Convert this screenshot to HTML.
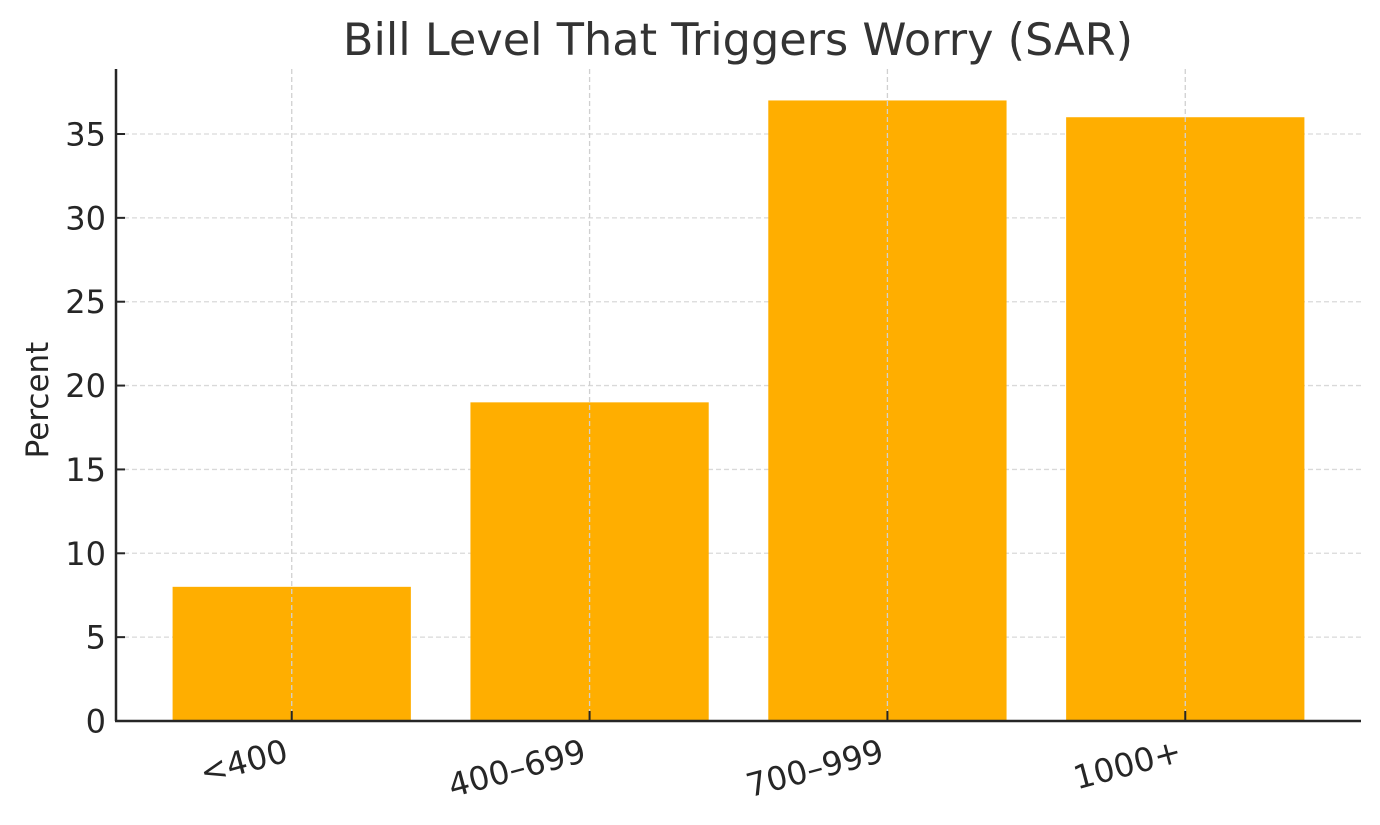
<!DOCTYPE html>
<html><head><meta charset="utf-8"><style>
body{margin:0;background:#fff;}
svg text{font-family:"DejaVu Sans","Liberation Sans",sans-serif;fill:#262626;}
</style></head><body>
<svg id="chart" width="1380" height="820" xmlns="http://www.w3.org/2000/svg">
<text x="738" y="55" font-size="44.6" text-anchor="middle" style="fill:#333">Bill Level That Triggers Worry (SAR)</text>
<text transform="translate(48,400) rotate(-90)" font-size="31" text-anchor="middle">Percent</text>
<g id="grid"></g><g id="bars"></g><g id="ticks"></g>
<line x1="116" y1="69" x2="116" y2="721" stroke="#262626" stroke-width="2.5"/>
<line x1="115" y1="721" x2="1361" y2="721" stroke="#262626" stroke-width="2.5"/>
</svg>
<script>
const categories=["<400","400–699","700–999","1000+"];
const values=[8,19,37,36];
const yTicks=[0,5,10,15,20,25,30,35];
const ns="http://www.w3.org/2000/svg";
const X0=116,X1=1361,Y0=721,PXU=(721-134)/35;
const step=(X1-X0)/(categories.length-1+1.18);
const xs=i=>X0+step*(0.59+i);
const ys=v=>Y0-v*PXU;
function mk(t,a,p){const e=document.createElementNS(ns,t);for(const k in a)e.setAttribute(k,a[k]);document.getElementById(p).appendChild(e);return e;}
yTicks.forEach(v=>{
 const g=mk("line",{x1:X0,x2:X1,y1:ys(v),y2:ys(v),stroke:"#d9d9d9","stroke-width":1.3,"stroke-dasharray":"5,3"},"grid");
 
 
 const t=mk("line",{x1:X0,x2:X0+9,y1:ys(v),y2:ys(v),stroke:"#262626","stroke-width":2},"ticks");
 
 
 const l=mk("text",{x:X0-10,y:ys(v)+11.5,"font-size":32,"text-anchor":"end"},"ticks");
 l.textContent=v;
 
 
});
categories.forEach((c,i)=>{
 const cx=xs(i),w=step*0.8;
 const b=mk("rect",{x:cx-w/2,y:ys(values[i]),width:w,height:Y0-ys(values[i]),fill:"#FFAE00"},"bars");
 
 
 const g=mk("line",{x1:cx,x2:cx,y1:69,y2:Y0,stroke:"#d0d0d0","stroke-width":1.3,"stroke-dasharray":"5,3"},"ticks");
 
 
 const t=mk("line",{x1:cx,x2:cx,y1:Y0-10,y2:Y0,stroke:"#262626","stroke-width":2},"ticks");
 
 
 const l=mk("text",{transform:`translate(${cx-2},${Y0+40}) rotate(-15)`,"font-size":32.5,"text-anchor":"end"},"ticks");
 l.textContent=c;
 
 
});
</script>
</body></html>
